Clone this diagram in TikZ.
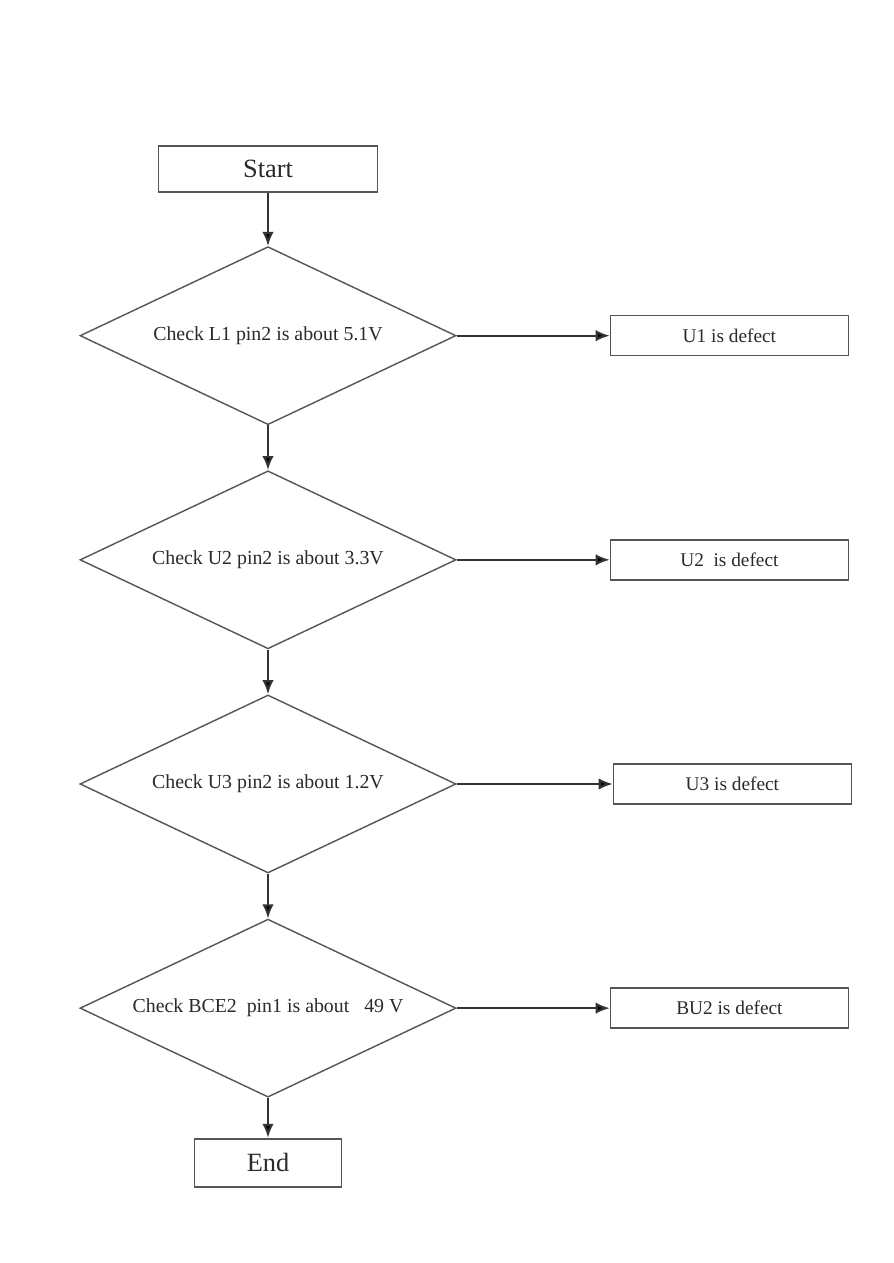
\documentclass[tikz,border=0pt]{standalone}
\usepackage{fontspec}
\setmainfont{Liberation Serif}
\usetikzlibrary{positioning,arrows.meta,shapes.geometric}
\definecolor{linegray}{HTML}{555555}
\definecolor{textgray}{HTML}{2A2A2A}

\begin{document}
\begin{tikzpicture}[>={Latex[length=8pt,width=6.5pt]}, node distance=0.895cm,
    terminal/.style={rectangle, draw=linegray, line width=1.1pt, text=textgray,
      minimum height=0.92cm, font=\fontsize{15}{17}\selectfont},
    check/.style={diamond, draw=linegray, line width=0.8pt, text=textgray,
      minimum width=7.52cm, minimum height=3.56cm, inner sep=0pt, aspect=2.1,
      font=\fontsize{11.3}{13}\selectfont},
    result/.style={rectangle, draw=linegray, line width=0.8pt, text=textgray,
      minimum width=4.76cm, minimum height=0.8cm, font=\fontsize{11}{13}\selectfont},
    flow/.style={->, draw=black!80, line width=1.2pt}]

\useasboundingbox (0,0) rectangle (17.88,-25.26);

\node[terminal, minimum width=4.38cm] (start) at (5.36,-3.38) {Start};
\node[check] (chkL1) [below=1.06cm of start] {Check L1 pin2 is about 5.1V};
\node[check] (chkU2) [below=of chkL1] {Check U2 pin2 is about 3.3V};
\node[check] (chkU3) [below=of chkU2] {Check U3 pin2 is about 1.2V};
\node[check] (chkBCE) [below=of chkU3] {Check BCE2\ \ pin1 is about\ \ \ 49 V};
\node[terminal, minimum width=2.94cm, minimum height=0.96cm] (end) [below=0.8cm of chkBCE] {End};

\node[result] (defU1) [right=3.06cm of chkL1] {U1 is defect};
\node[result] (defU2) [right=3.06cm of chkU2] {U2\ \ is defect};
\node[result] (defU3) [right=3.12cm of chkU3] {U3 is defect};
\node[result] (defBU2) [right=3.06cm of chkBCE] {BU2 is defect};

\path[flow]
  (start) edge (chkL1)
  (chkL1) edge (chkU2)
  (chkU2) edge (chkU3)
  (chkU3) edge (chkBCE)
  (chkBCE) edge (end)
  (chkL1) edge (defU1)
  (chkU2) edge (defU2)
  (chkU3) edge (defU3)
  (chkBCE) edge (defBU2);
\end{tikzpicture}
\end{document}
